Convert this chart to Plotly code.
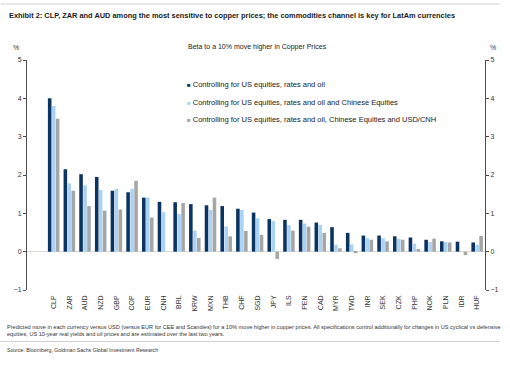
import plotly.graph_objects as go

categories = ["CLP", "ZAR", "AUD", "NZD", "GBP", "COP", "EUR", "CNH", "BRL", "KRW",
              "MXN", "THB", "CHF", "SGD", "JPY", "ILS", "PEN", "CAD", "MYR", "TWD",
              "INR", "SEK", "CZK", "PHP", "NOK", "PLN", "IDR", "HUF"]

ctrl_us = [4.00, 2.15, 2.02, 1.95, 1.59, 1.55, 1.41, 1.30, 1.29, 1.24,
           1.21, 1.19, 1.12, 1.02, 0.85, 0.83, 0.83, 0.76, 0.64, 0.49,
           0.42, 0.42, 0.40, 0.37, 0.31, 0.27, 0.26, 0.24]
ctrl_us_cn = [3.80, 1.78, 1.73, 1.61, 1.64, 1.64, 1.41, 1.03, 0.98, 0.55,
              1.09, 0.66, 1.09, 0.87, 0.80, 0.69, 0.73, 0.70, 0.18, 0.19,
              0.35, 0.35, 0.33, 0.21, 0.25, 0.25, 0.00, 0.18]
ctrl_us_cn_cnh = [3.47, 1.59, 1.19, 1.07, 1.10, 1.85, 0.89, None, 1.27, 0.36,
                  1.41, 0.40, 0.54, 0.44, -0.19, 0.55, 0.65, 0.49, 0.09, -0.04,
                  0.31, 0.27, 0.31, 0.07, 0.34, 0.24, -0.09, 0.41]

series_names = ["Controlling for US equities, rates and oil",
                "Controlling for US equities, rates and oil and Chinese Equities",
                "Controlling for US equities, rates and oil, Chinese Equities and USD/CNH"]
colors = ["#0B3462", "#A9D2F3", "#A6A6A6"]
y_ticks = [-1, 0, 1, 2, 3, 4, 5]

W, H = 510, 365
L, R, T, B = 27, 495, 60, 290  # plot area in pixels


def px(x):
    return (x - L) / (R - L)


def py(y):
    return (B - y) / (B - T)


fig = go.Figure()
for name, vals, col in zip(series_names, [ctrl_us, ctrl_us_cn, ctrl_us_cn_cnh], colors):
    fig.add_trace(go.Bar(x=categories, y=vals, name=name, marker=dict(color=col, line=dict(width=0)),
                         showlegend=False))
# empty trace so the right-hand axis is drawn
fig.add_trace(go.Scatter(x=[categories[0]], y=[None], yaxis="y2", mode="markers",
                         showlegend=False, hoverinfo="skip"))

font_main = "Liberation Sans, Arial, sans-serif"

axis_common = dict(range=[-1, 5], tickvals=y_ticks, showgrid=False, showline=True,
                   linecolor="#4D4D4D", linewidth=1, ticks="outside", ticklen=3,
                   tickcolor="#4D4D4D", tickfont=dict(size=7, color="#333333", family=font_main))

fig.update_layout(
    width=W, height=H,
    margin=dict(l=L, r=W - R, t=T, b=H - B, pad=0),
    paper_bgcolor="white", plot_bgcolor="white",
    barmode="group", bargap=0.24, bargroupgap=0.1,
    xaxis=dict(showline=False, ticks="", tickangle=-90, showgrid=False,
               tickfont=dict(size=7, color="#333333", family=font_main), ticklabelstandoff=3),
    yaxis=dict(**axis_common, zeroline=True, zerolinecolor="#D9D9D9", zerolinewidth=1),
    yaxis2=dict(**axis_common, overlaying="y", side="right", zeroline=False),
    font=dict(family=font_main),
)

ann = []
ann.append(dict(text="<b>Exhibit 2: CLP, ZAR and AUD among the most sensitive to copper prices; the commodities channel is key for LatAm currencies</b>",
                x=px(7), y=py(15), xref="paper", yref="paper", xanchor="left", yanchor="middle",
                showarrow=False, font=dict(size=7.4, color="#1a1a1a", family=font_main)))
ann.append(dict(text="Beta to a 10% move higher in Copper Prices", x=px(263), y=py(47),
                xref="paper", yref="paper", xanchor="center", yanchor="middle", showarrow=False,
                font=dict(size=7, color="#1a1a1a", family=font_main)))
for xp in (16, 503):
    ann.append(dict(text="%", x=px(xp), y=py(47), xref="paper", yref="paper", xanchor="center",
                    yanchor="middle", showarrow=False, font=dict(size=7, color="#333333", family=font_main)))
for i, (name, col) in enumerate(zip(series_names, colors)):
    yy = py(84.5 + 17.7 * i)
    ann.append(dict(text=f"<span style='color:{col};font-size:6px'>■</span> {name}", x=px(188.5), y=yy,
                    xref="paper", yref="paper", xanchor="left", yanchor="middle", showarrow=False,
                    font=dict(size=7.5, color="#1a1a1a", family=font_main)))
ann.append(dict(text="Predicted move in each currency versus USD (versus EUR for CEE and Scandies) for a 10% move higher in copper prices. All specifications control additionally for changes in US cyclical vs defensive<br>equities, US 10-year real yields and oil prices and are estimated over the last two years.",
                x=px(5), y=py(330), xref="paper", yref="paper", xanchor="left", yanchor="middle",
                align="left", showarrow=False, font=dict(size=5.6, color="#333333", family=font_main)))
ann.append(dict(text="Source: Bloomberg, Goldman Sachs Global Investment Research",
                x=px(5), y=py(350), xref="paper", yref="paper", xanchor="left", yanchor="middle",
                showarrow=False, font=dict(size=5.2, color="#333333", family=font_main)))
fig.update_layout(annotations=ann)

shapes = []
for yline in (4, 341.5):
    shapes.append(dict(type="line", xref="paper", yref="paper", x0=px(0), x1=px(W), y0=py(yline), y1=py(yline),
                       line=dict(color="#D0D0D0", width=1)))
fig.update_layout(shapes=shapes)

fig.write_html("out.html", config={"displayModeBar": False},
               post_script="document.body.style.margin='0px';")
